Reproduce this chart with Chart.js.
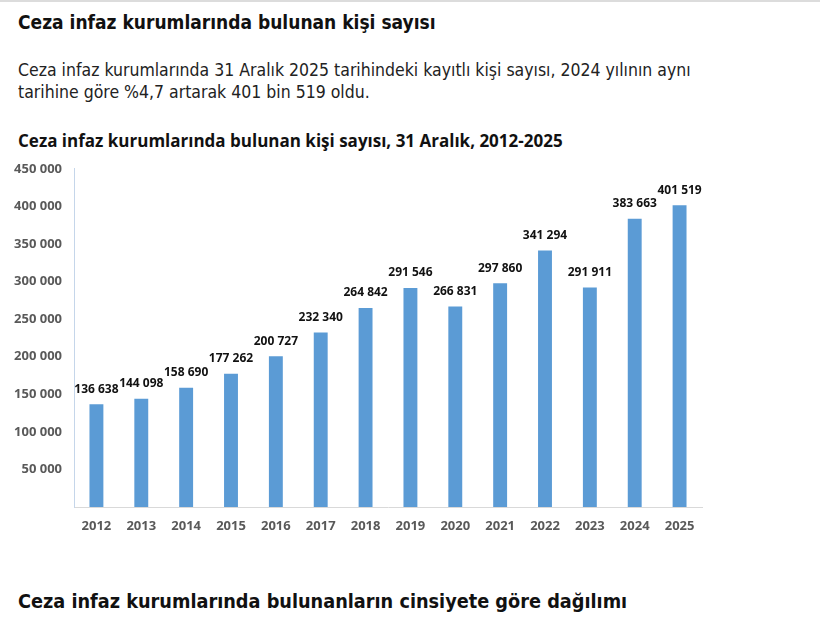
<!DOCTYPE html>
<html lang="tr">
<head>
<meta charset="utf-8">
<script src="https://cdn.jsdelivr.net/npm/chart.js@4.4.1/dist/chart.umd.min.js"></script>
<style>
    html, body { margin: 0; padding: 0; background: #fff; }
    body { width: 820px; height: 627px; position: relative; overflow: hidden; border-top: 2px solid #dcdcdc; box-sizing: border-box; }
    .baslik { position: absolute; left: 18px; font-family: "Liberation Sans Narrow", "DejaVu Sans Condensed", sans-serif; font-weight: bold; color: #111; white-space: nowrap; }
    #metin { position: absolute; left: 18px; top: 57px; font-family: "Liberation Sans Narrow", "DejaVu Sans Condensed", sans-serif; font-size: 17.5px; line-height: 22px; color: #222; }
    #grafikBaslik { position: absolute; left: 18px; top: 127px; font-family: "Open Sans", sans-serif; font-weight: bold; font-size: 17px; color: #111; white-space: nowrap; }
    #kutu { position: absolute; left: 0; top: 147px; width: 720px; height: 394px; }
</style>
</head>
<body>
<div class="baslik" style="top:9px; font-size:19px">Ceza infaz kurumlarında bulunan kişi sayısı</div>
<div id="metin">Ceza infaz kurumlarında 31 Aralık 2025 tarihindeki kayıtlı kişi sayısı, 2024 yılının aynı<br>tarihine göre %4,7 artarak 401 bin 519 oldu.</div>
<div id="grafikBaslik">Ceza infaz kurumlarında bulunan kişi sayısı, 31 Aralık, 2012-2025</div>
<div id="kutu"><canvas id="grafik"></canvas></div>
<div class="baslik" style="top:588px; font-size:19.7px">Ceza infaz kurumlarında bulunanların cinsiyete göre dağılımı</div>
<script>
"use strict";
const yillar = ["2012", "2013", "2014", "2015", "2016", "2017", "2018", "2019", "2020", "2021", "2022", "2023", "2024", "2025"];
const kisiSayisi = [136638, 144098, 158690, 177262, 200727, 232340, 264842, 291546, 266831, 297860, 341294, 291911, 383663, 401519];
const yTikleri = [50000, 100000, 150000, 200000, 250000, 300000, 350000, 400000, 450000];

function bicim(n) {
    return String(n).replace(/\B(?=(\d{3})+(?!\d))/g, " ");
}

// bar ustune deger yazisi
const degerYazisi = {
    id: "degerYazisi",
    afterDatasetsDraw(chart) {
        const ctx = chart.ctx;
        const meta = chart.getDatasetMeta(0);
        ctx.save();
        ctx.font = "bold 12px 'Open Sans', sans-serif";
        ctx.fillStyle = "#111";
        ctx.textAlign = "center";
        ctx.textBaseline = "middle";
        meta.data.forEach(function(bar, i) {
            ctx.fillText(bicim(kisiSayisi[i]), bar.x, bar.y - 15);
        });
        ctx.restore();
    }
};

new Chart(document.getElementById("grafik"), {
    type: "bar",
    data: {
        labels: yillar,
        datasets: [{
            data: kisiSayisi,
            backgroundColor: "#5b9bd5",
            barPercentage: 0.62,
            categoryPercentage: 0.5
        }]
    },
    options: {
        responsive: true,
        maintainAspectRatio: false,
        animation: false,
        layout: { padding: { top: 18, right: 18, left: 0, bottom: 0 } },
        plugins: { legend: { display: false }, tooltip: { enabled: false } },
        scales: {
            x: {
                grid: { display: false, drawTicks: false },
                border: { display: true, color: "#d9d9d9", width: 1 },
                ticks: { color: "#595959", padding: 11, font: { family: "'Open Sans', sans-serif", weight: "bold", size: 13 } },
                afterFit(scale) { scale.height = 36; }
            },
            y: {
                min: 0,
                max: 450000,
                grid: { display: false, drawTicks: false },
                border: { display: true, color: "#c5d6ea", width: 1 },
                afterBuildTicks(scale) {
                    scale.ticks = [{ value: 0 }].concat(yTikleri.map(v => ({ value: v })));
                },
                ticks: {
                    color: "#595959",
                    padding: 12,
                    font: { family: "'Open Sans', sans-serif", weight: "bold", size: 13 },
                    callback: v => v === 0 ? "" : bicim(v)
                },
                afterFit(scale) { scale.width = 74; }
            }
        }
    },
    plugins: [degerYazisi]
});
</script>
</body>
</html>
